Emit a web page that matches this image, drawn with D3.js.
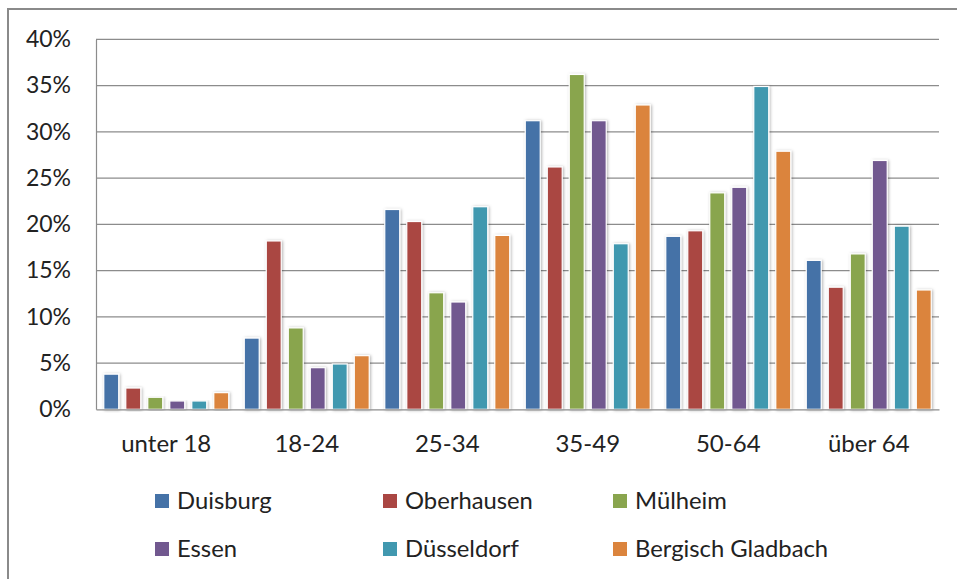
<!DOCTYPE html>
<html>
<head>
<meta charset="utf-8">
<script src="https://cdn.jsdelivr.net/npm/d3@7"></script>
<style>
  html, body { margin: 0; padding: 0; background: #fff; }
  svg { display: block; font-family: Lato, "Open Sans", sans-serif; }
</style>
</head>
<body>
<svg id="chart" width="957" height="579"></svg>
<script>
// Age groups on the x axis
const categories = ["unter 18", "18-24", "25-34", "35-49", "50-64", "über 64"];
// Cities (one bar per city in each age group)
const cities = ["Duisburg", "Oberhausen", "Mülheim", "Essen", "Düsseldorf", "Bergisch Gladbach"];
const cityColors = ["#4572A7", "#AA4643", "#89A54E", "#71588F", "#4198AF", "#DB843D"];
// Share of each age group per city, in percent
const duisburg   = [3.8,  7.7, 21.6, 31.2, 18.7, 16.1];
const oberhausen = [2.3, 18.2, 20.3, 26.2, 19.3, 13.2];
const muelheim   = [1.3,  8.8, 12.6, 36.2, 23.4, 16.8];
const essen      = [0.9,  4.5, 11.6, 31.2, 24.0, 26.9];
const duesseldorf= [0.9,  4.9, 21.9, 17.9, 34.9, 19.8];
const bergisch   = [1.8,  5.8, 18.8, 32.9, 27.9, 12.9];
const yTicks = [0, 5, 10, 15, 20, 25, 30, 35, 40];

const seriesValues = [duisburg, oberhausen, muelheim, essen, duesseldorf, bergisch];

const svg = d3.select("#chart");
const plot = { left: 96, right: 939, top: 39.3, bottom: 409.3 };

// drop shadow for the bars
const defs = svg.append("defs");
const f = defs.append("filter").attr("id", "barShadow")
  .attr("x", "-50%").attr("y", "-10%").attr("width", "200%").attr("height", "120%");
f.append("feDropShadow").attr("dx", 1).attr("dy", 0.5).attr("stdDeviation", 1.6)
  .attr("flood-color", "#000").attr("flood-opacity", 0.3);

// outer chart frame (only top and left edges fall inside the page)
svg.append("path")
  .attr("d", "M8,600 L8,9 L980,9")
  .attr("fill", "none").attr("stroke", "#8a8a8a").attr("stroke-width", 2);

const y = d3.scaleLinear().domain([0, 40]).range([plot.bottom, plot.top]);
const x0 = d3.scaleBand().domain(categories).range([plot.left, plot.right]).padding(0);
const x1 = d3.scaleBand().domain(cities).range([0, x0.bandwidth()])
  .paddingInner(0.32).paddingOuter(0.353);

// horizontal gridlines
svg.append("g").selectAll("line").data(yTicks.filter(t => t > 0)).join("line")
  .attr("x1", plot.left).attr("x2", plot.right)
  .attr("y1", d => y(d)).attr("y2", d => y(d))
  .attr("stroke", "#8c8c8c").attr("stroke-width", 1.2);

// y axis
const yAxis = svg.append("g").attr("transform", `translate(${plot.left},0)`)
  .call(d3.axisLeft(y).tickValues(yTicks).tickSize(0).tickPadding(25).tickFormat(d => d + "%"));
yAxis.select(".domain").attr("stroke", "#8c8c8c").attr("stroke-width", 1.2);
yAxis.selectAll("text").attr("font-size", 23).attr("fill", "#222")
  .attr("font-family", "Lato, sans-serif");

// bars
const groups = svg.append("g").selectAll("g").data(categories).join("g")
  .attr("transform", d => `translate(${x0(d)},0)`);
groups.selectAll("rect")
  .data((c, i) => cities.map((city, s) => ({ city, s, v: seriesValues[s][i] })))
  .join("rect")
  .attr("x", d => x1(d.city))
  .attr("width", x1.bandwidth())
  .attr("y", d => y(d.v))
  .attr("height", d => y(0) - y(d.v))
  .attr("fill", d => cityColors[d.s])
  .attr("stroke", "#fff").attr("stroke-width", 1.2)
  .attr("filter", "url(#barShadow)");

// x axis
const xAxis = svg.append("g").attr("transform", `translate(0,${plot.bottom})`)
  .call(d3.axisBottom(x0).tickSize(0).tickPadding(26));
xAxis.select(".domain").attr("stroke", "#8c8c8c").attr("stroke-width", 1.2);
xAxis.selectAll("text").attr("font-size", 24).attr("fill", "#222")
  .attr("font-family", "Lato, sans-serif");

// legend, three columns by two rows
const legendCols = [155, 383, 613];
const legendRows = [494, 542];
const legend = svg.append("g").selectAll("g").data(cities).join("g")
  .attr("transform", (d, i) => `translate(${legendCols[i % 3]},${legendRows[Math.floor(i / 3)]})`);
legend.append("rect").attr("width", 14).attr("height", 14)
  .attr("fill", (d, i) => cityColors[i]);
legend.append("text").attr("x", 22).attr("y", 14.5)
  .attr("font-size", 23.8).attr("fill", "#222").text(d => d);
</script>
</body>
</html>
